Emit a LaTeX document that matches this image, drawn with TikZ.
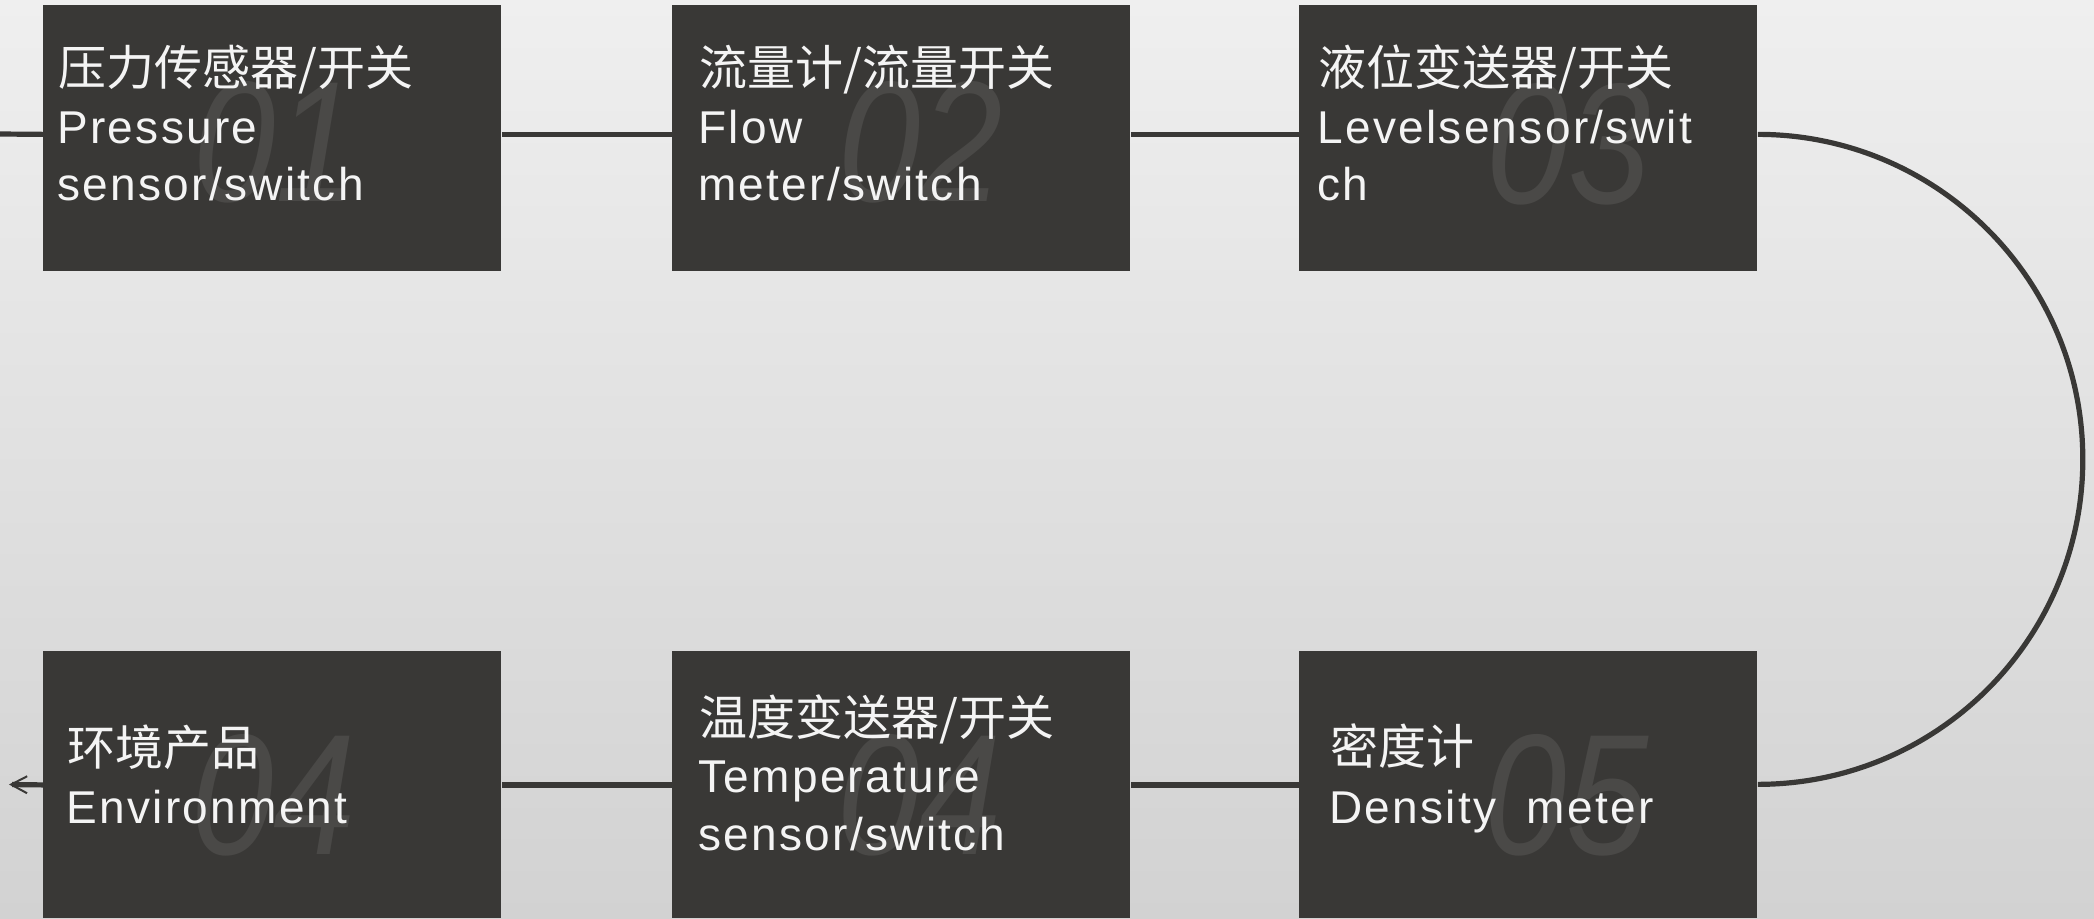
\documentclass[tikz,border=0pt]{standalone}
\usepackage{fontspec}
\setmainfont{Liberation Sans}
\newfontfamily\cjk{Noto Sans CJK SC}
\newfontfamily\enf[LetterSpace=5]{Liberation Sans}
\usetikzlibrary{arrows.meta}
\definecolor{boxc}{HTML}{393836}
\definecolor{numc}{HTML}{4A4947}
\definecolor{txtc}{HTML}{F4F4F4}
\definecolor{bgtop}{HTML}{EFEFEF}
\definecolor{bgbot}{HTML}{D2D2D2}
\begin{document}
\begin{tikzpicture}[x=0.5pt,y=-0.5pt,
  stepbox/.style={fill=boxc, draw=none, anchor=north west, inner sep=0pt, minimum width=229pt},
  topbox/.style={stepbox, minimum height=133.25pt},
  botbox/.style={stepbox, minimum height=133.5pt},
  numtxt/.style={text=numc, inner sep=0pt, font=\fontsize{86}{86}\selectfont\itshape, xscale=0.86, transform shape},
  cjkt/.style={text=txtc, anchor=base west, inner sep=0pt, font=\cjk\fontsize{24}{28}\selectfont},
  ent/.style={text=txtc, anchor=base west, inner sep=0pt, font=\enf\fontsize{23}{28}\selectfont},
  conn/.style={draw=boxc, line width=2.6pt},
]
\useasboundingbox (0,0) rectangle (2094,918);
\shade[top color=bgtop, bottom color=bgbot] (0,0) rectangle (2094,918);

% boxes
\node[topbox] (b1) at (43,4.5) {};
\node[topbox] (b2) at (672,4.5) {};
\node[topbox] (b3) at (1299,4.5) {};
\node[botbox] (b4) at (43,651) {};
\node[botbox] (b6) at (672,651) {};
\node[botbox] (b5) at (1299,651) {};

% big numbers
\node[numtxt] (n1) at (276,142) {01};
\node[numtxt] (n2) at (921,142) {02};
\node[numtxt] (n3) at (1569,144) {03};
\node[numtxt] (n4) at (274,795) {04};
\node[numtxt] (n6) at (920,795) {04};
\node[numtxt] (n5) at (1567,795) {05};

% texts
\node[cjkt] (t1a) at (58,85) {压力传感器/开关};
\node[ent] (t1b) at (57,143) {Pressure};
\node[ent] (t1c) at (57,200) {sensor/switch};

\node[cjkt] (t2a) at (699,85) {流量计/流量开关};
\node[ent] (t2b) at (698,143) {Flow};
\node[ent] (t2c) at (698,200) {meter/switch};

\node[cjkt] (t3a) at (1318,85) {液位变送器/开关};
\node[ent] (t3b) at (1317,143) {Levelsensor/swit};
\node[ent] (t3c) at (1317,200) {ch};

\node[cjkt] (t4a) at (67,765) {环境产品};
\node[ent] (t4b) at (66,823) {Environment};

\node[cjkt] (t6a) at (699,735) {温度变送器/开关};
\node[ent] (t6b) at (698,792) {Temperature};
\node[ent] (t6c) at (698,850) {sensor/switch};

\node[cjkt] (t5a) at (1330,764) {密度计};
\node[ent] (t5b) at (1329,823) {Density~~meter};

% connectors
\coordinate (lstart) at (0,134);
\coordinate (aend) at (9,784.5);
\draw[conn] (lstart) -- ([yshift=1.9pt]b1.west);
\draw[conn] ([yshift=1.9pt]b1.east) -- ([yshift=1.9pt]b2.west);
\draw[conn] ([yshift=1.9pt]b2.east) -- ([yshift=1.9pt]b3.west);
\draw[conn] ([yshift=1.9pt]b3.east) arc[start angle=90, end angle=-90, radius=162.5pt];
\draw[conn] (b5.west) -- (b6.east);
\draw[conn] (b6.west) -- (b4.east);
\draw[conn, -{Straight Barb[length=8pt, width=8.5pt, line width=1pt]}] (b4.west) -- (aend);
\end{tikzpicture}
\end{document}
